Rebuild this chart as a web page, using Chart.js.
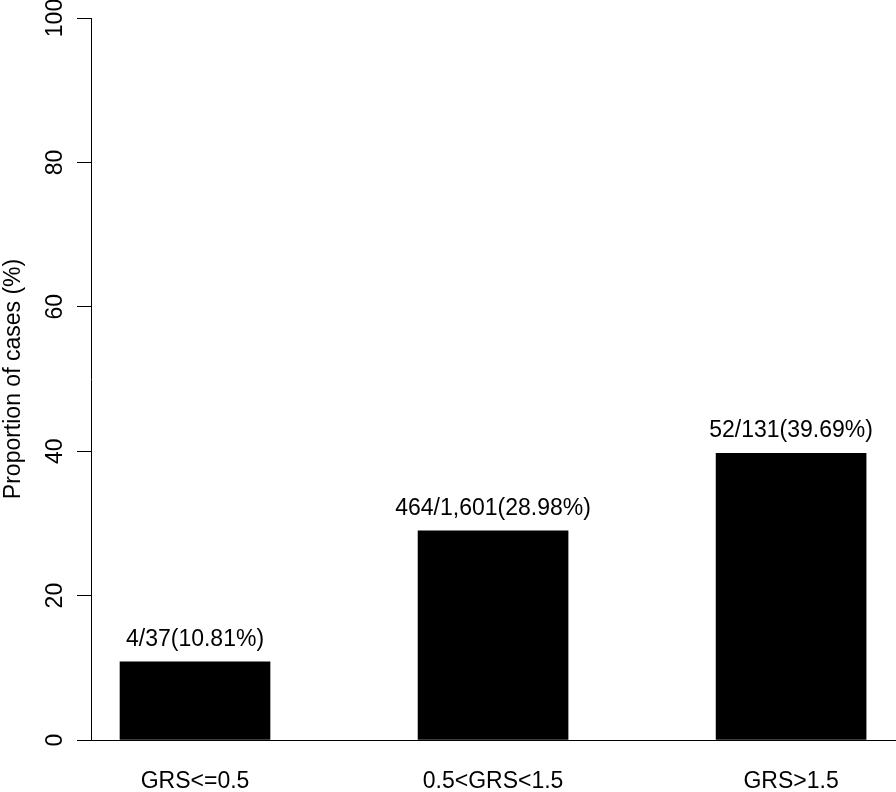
<!DOCTYPE html>
<html>
<head>
<meta charset="utf-8">
<script src="https://cdn.jsdelivr.net/npm/chart.js@4/dist/chart.umd.min.js"></script>
<style>
  html, body { margin: 0; padding: 0; background: #fff; }
  #wrap { width: 896px; height: 792px; }
</style>
</head>
<body>
<div id="wrap"><canvas id="grsChart" width="896" height="792"></canvas></div>
<script>
// data
const groups = ["GRS<=0.5", "0.5<GRS<1.5", "GRS>1.5"];
const proportions = [10.81, 28.98, 39.69];
const barLabels = ["4/37(10.81%)", "464/1,601(28.98%)", "52/131(39.69%)"];
const yTicks = [0, 20, 40, 60, 80, 100];

const FONT = "'Liberation Sans', Arial, Helvetica, sans-serif";

// labels over each bar, placed from the bar element itself
const barText = {
  id: "barText",
  afterDatasetsDraw(chart) {
    const c = chart.ctx;
    const meta = chart.getDatasetMeta(0);
    c.save();
    c.font = "23px " + FONT;
    c.fillStyle = "#000";
    c.textAlign = "center";
    c.textBaseline = "bottom";
    meta.data.forEach((bar, i) => {
      c.fillText(barLabels[i], bar.x, bar.y - 11);
    });
    c.restore();
  }
};

new Chart(document.getElementById("grsChart"), {
  type: "bar",
  data: {
    datasets: [{
      data: proportions.map((v, i) => ({ x: i, y: v })),
      backgroundColor: "#000",
      borderColor: "#000",
      borderWidth: 0,
      barThickness: 150
    }]
  },
  options: {
    responsive: false,
    animation: false,
    layout: { padding: { top: 18, right: 0, left: 0, bottom: 0 } },
    plugins: {
      legend: { display: false },
      tooltip: { enabled: false }
    },
    scales: {
      x: {
        type: "linear",
        offset: false,
        min: -0.349,
        max: 2.352,
        afterBuildTicks: s => { s.ticks = groups.map((g, i) => ({ value: i })); },
        afterFit: s => { s.height = 52; s.paddingLeft = 0; s.paddingRight = 0; },
        grid: { display: false, drawTicks: false },
        border: { display: true, color: "#000", width: 1 },
        ticks: {
          color: "#000",
          font: { family: FONT, size: 23 },
          padding: 28,
          maxRotation: 0,
          callback: v => groups[v]
        }
      },
      y: {
        min: 0,
        max: 100,
        afterBuildTicks: s => { s.ticks = yTicks.map(v => ({ value: v })); },
        afterFit: s => { s.width = 91; s.paddingTop = 0; s.paddingBottom = 0; },
        grid: { drawOnChartArea: false, drawTicks: true, tickLength: 14, color: "#000" },
        border: { display: true, color: "#000", width: 1 },
        title: {
          display: true,
          text: "Proportion of cases (%)",
          color: "#000",
          font: { family: FONT, size: 23 },
          padding: { top: 0, bottom: 0 }
        },
        ticks: {
          color: "#000",
          font: { family: FONT, size: 23 },
          minRotation: 90,
          maxRotation: 90,
          crossAlign: "center",
          padding: 2
        }
      }
    }
  },
  plugins: [barText]
});
</script>
</body>
</html>
